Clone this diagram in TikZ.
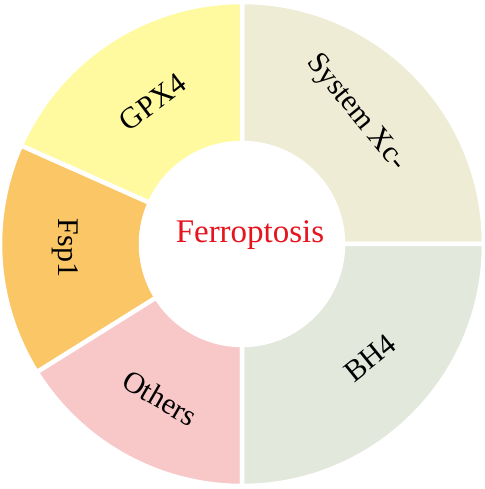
\documentclass[tikz,border=0pt]{standalone}
\usepackage{fontspec}
\setmainfont{Liberation Serif}
\usepackage{tikz}
\usetikzlibrary{backgrounds}
\definecolor{xccol}{RGB}{238,236,212}
\definecolor{gpxcol}{RGB}{255,250,160}
\definecolor{fspcol}{RGB}{250,198,102}
\definecolor{othcol}{RGB}{248,200,200}
\definecolor{bhcol}{RGB}{226,232,220}
\definecolor{ferred}{RGB}{230,20,30}

\begin{document}
\begin{tikzpicture}[x=1pt,y=1pt,
  slice/.style={draw=white,line width=4.5pt,line join=miter},
  segtext/.style={font=\fontsize{30}{30}\selectfont,text=black,inner sep=0pt}]
\useasboundingbox (0,0) rectangle (484,489);
\fill[white] (0,0) rectangle (484,489);
\begin{scope}[shift={(242,245)}]
\foreach \a/\b/\col in {0/90/xccol,90/156/gpxcol,156/212/fspcol,212/270/othcol,270/360/bhcol}{
  \filldraw[slice,fill=\col] (\a:101pt) -- (\a:242pt)
    arc[start angle=\a,end angle=\b,radius=242pt] -- (\b:101pt)
    arc[start angle=\b,end angle=\a,radius=101pt] -- cycle;
}
\end{scope}
\node[segtext,rotate=-51] (xc) at (356,376) {System Xc-};
\node[segtext,rotate=37] (gpx) at (153,387) {GPX4};
\node[segtext,rotate=-90] (fsp) at (65,241) {Fsp1};
\node[segtext,rotate=-30] (oth) at (160,91) {Others};
\node[segtext,rotate=39] (bh) at (370,131) {BH4};
\node[font=\fontsize{33}{33}\selectfont,text=ferred,anchor=base] (fer) at (250,246) {Ferroptosis};
\end{tikzpicture}
\end{document}
